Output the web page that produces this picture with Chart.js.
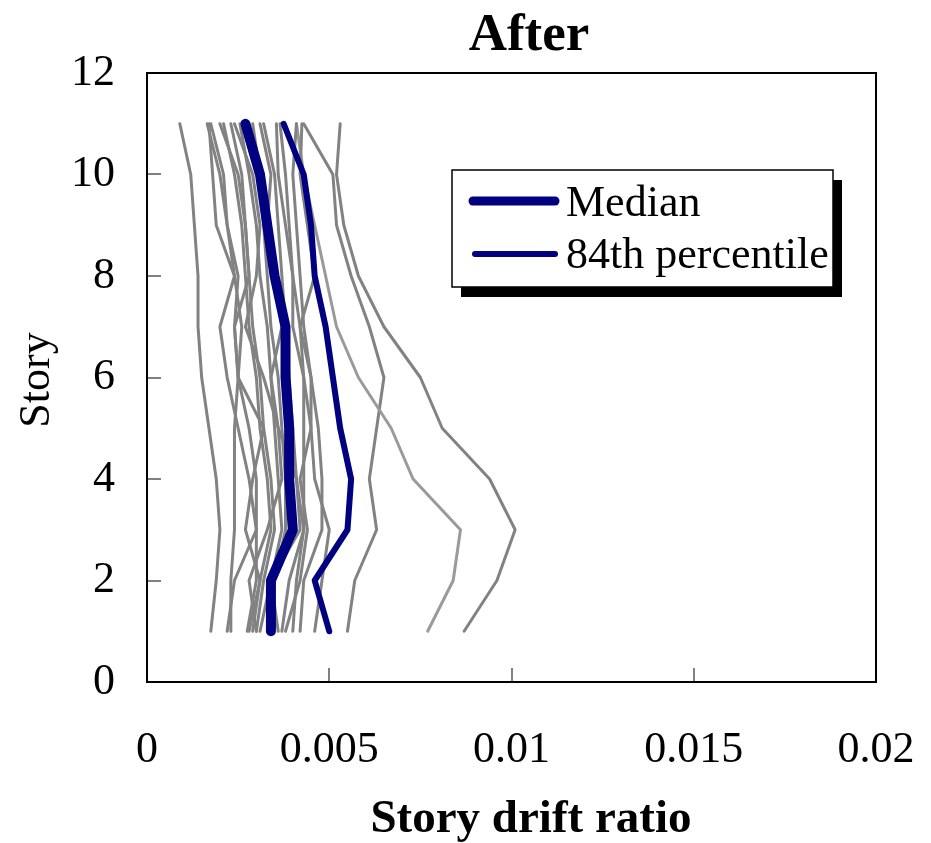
<!DOCTYPE html>
<html>
<head>
<meta charset="utf-8">
<script src="https://cdn.jsdelivr.net/npm/chart.js@4.4.1/dist/chart.umd.min.js"></script>
<style>
  html, body { margin: 0; padding: 0; background: #fff; }
  #wrap { width: 931px; height: 843px; }
</style>
</head>
<body>
<div id="wrap"><canvas id="drift" width="931" height="843"></canvas></div>
<script>
// stories 1..11, drift ratio per story for each ground motion record
const stories = [1, 2, 3, 4, 5, 6, 7, 8, 9, 10, 11];
const xTicks = [0, 0.005, 0.01, 0.015, 0.02];
const yTicks = [0, 2, 4, 6, 8, 10, 12];

const median = [0.0034, 0.0034, 0.0040, 0.0039, 0.0039, 0.0038, 0.0038, 0.0035, 0.0033, 0.0031, 0.0027];
const pct84  = [0.0050, 0.0046, 0.0055, 0.0056, 0.0053, 0.0051, 0.0049, 0.0046, 0.0045, 0.0043, 0.00375];

const eq01 = [0.00175, 0.0019, 0.0020, 0.0019, 0.0017, 0.0015, 0.0014, 0.0014, 0.0013, 0.0012, 0.0009];
const eq02 = [0.0022, 0.0024, 0.0030, 0.0028, 0.0025, 0.0022, 0.0020, 0.0024, 0.0022, 0.0020, 0.00165];
const eq03 = [0.0023, 0.0023, 0.0024, 0.0024, 0.0024, 0.0025, 0.0026, 0.0024, 0.0019, 0.0018, 0.0017];
const eq04 = [0.00275, 0.0030, 0.0030, 0.0030, 0.0028, 0.0025, 0.0024, 0.0025, 0.0022, 0.0021, 0.00175];
const eq05 = [0.0028, 0.0031, 0.0027, 0.0029, 0.0032, 0.0025, 0.0024, 0.0028, 0.0027, 0.0025, 0.0020];
const eq06 = [0.0029, 0.0031, 0.0034, 0.0033, 0.0031, 0.0030, 0.0028, 0.0027, 0.0026, 0.0024, 0.0021];
const eq07 = [0.0030, 0.0032, 0.0035, 0.0034, 0.0032, 0.0031, 0.0029, 0.0028, 0.0027, 0.0026, 0.0023];
const eq08 = [0.0030, 0.0028, 0.0033, 0.0037, 0.0036, 0.0032, 0.0027, 0.0030, 0.0031, 0.0029, 0.0024];
const eq09 = [0.0031, 0.0034, 0.0037, 0.0036, 0.0035, 0.0034, 0.0033, 0.0031, 0.0030, 0.0028, 0.00255];
const eq10 = [0.0033, 0.0035, 0.0038, 0.0038, 0.0037, 0.0036, 0.0034, 0.0033, 0.0032, 0.0031, 0.0029];
const eq11 = [0.0036, 0.0034, 0.0042, 0.0041, 0.0036, 0.0034, 0.0037, 0.0035, 0.0033, 0.0034, 0.0031];
const eq12 = [0.0037, 0.0039, 0.0043, 0.0041, 0.0040, 0.0039, 0.0038, 0.0037, 0.0036, 0.0035, 0.0032];
const eq13 = [0.0038, 0.0042, 0.0044, 0.0042, 0.0045, 0.0043, 0.0040, 0.0040, 0.0038, 0.0036, 0.00355];
const eq14 = [0.0040, 0.0041, 0.0043, 0.0043, 0.0043, 0.0043, 0.0042, 0.0040, 0.0039, 0.0038, 0.00365];
const eq15 = [0.0042, 0.0043, 0.0048, 0.0048, 0.0047, 0.0045, 0.0043, 0.0042, 0.0041, 0.0040, 0.0041];
const eq16 = [0.0046, 0.0048, 0.0050, 0.0046, 0.0045, 0.0045, 0.0042, 0.0046, 0.0044, 0.0042, 0.00425];
const eq17 = [0.0087, 0.0096, 0.0101, 0.0094, 0.0081, 0.0075, 0.0065, 0.0058, 0.0054, 0.0052, 0.0053];
const eq18 = [0.0077, 0.0084, 0.0086, 0.0073, 0.0067, 0.0058, 0.0052, 0.0049, 0.0046, 0.0043, 0.0041];
const eq19 = [0.0055, 0.0057, 0.0063, 0.0061, 0.0063, 0.0065, 0.0061, 0.0056, 0.0052, 0.0051, 0.0043];

const records = [eq01, eq02, eq03, eq04, eq05, eq06, eq07, eq08, eq09, eq10,
                 eq11, eq12, eq13, eq14, eq15, eq16, eq17, eq18, eq19];

const NAVY = '#000080';
const SERIF = '"Liberation Serif", "Times New Roman", serif';

function toPoints(arr) {
  return arr.map((v, i) => ({ x: v, y: stories[i] }));
}

const datasets = [
  { label: 'Median', data: toPoints(median), borderColor: NAVY, borderWidth: 10, order: 0 },
  { label: '84th percentile', data: toPoints(pct84), borderColor: NAVY, borderWidth: 6, order: 0 }
];
records.forEach((rec, i) => {
  datasets.push({
    label: 'rec' + (i + 1),
    data: toPoints(rec),
    borderColor: rec === eq18 ? '#9a9a9a' : '#828282',
    borderWidth: 3,
    order: 1
  });
});

// frame, inward tick marks, titles and the boxed legend
const decor = {
  id: 'decor',
  afterDatasetsDraw(chart) {
    const ctx = chart.ctx;
    const a = chart.chartArea;
    const xs = chart.scales.x, ys = chart.scales.y;
    ctx.save();

    ctx.strokeStyle = '#808080';
    ctx.lineWidth = 2;
    xTicks.forEach(v => {
      const px = Math.round(xs.getPixelForValue(v));
      ctx.beginPath(); ctx.moveTo(px, a.bottom); ctx.lineTo(px, a.bottom - 14); ctx.stroke();
    });
    yTicks.forEach(v => {
      const py = Math.round(ys.getPixelForValue(v));
      ctx.beginPath(); ctx.moveTo(a.left, py); ctx.lineTo(a.left + 14, py); ctx.stroke();
    });

    ctx.strokeStyle = '#000';
    ctx.lineWidth = 2;
    ctx.strokeRect(a.left, a.top, a.right - a.left, a.bottom - a.top);

    // legend
    const lx = 452, ly = 170, lw = 381, lh = 117;
    ctx.fillStyle = '#000';
    ctx.fillRect(lx + 9, ly + 10, lw, lh);
    ctx.fillStyle = '#fff';
    ctx.fillRect(lx, ly, lw, lh);
    ctx.lineWidth = 1.5;
    ctx.strokeRect(lx, ly, lw, lh);

    ctx.lineCap = 'round';
    ctx.strokeStyle = NAVY;
    ctx.lineWidth = 9;
    ctx.beginPath(); ctx.moveTo(473, 201); ctx.lineTo(555, 201); ctx.stroke();
    ctx.lineWidth = 6;
    ctx.beginPath(); ctx.moveTo(475, 254); ctx.lineTo(555, 254); ctx.stroke();

    ctx.fillStyle = '#000';
    ctx.font = '44px ' + SERIF;
    ctx.textAlign = 'left';
    ctx.textBaseline = 'alphabetic';
    ctx.fillText(datasets[0].label, 566, 216);
    ctx.fillText(datasets[1].label, 566, 268);

    // chart and axis titles
    ctx.textAlign = 'center';
    ctx.font = 'bold 53px ' + SERIF;
    ctx.fillText('After', 529, 50);
    ctx.font = 'bold 47px ' + SERIF;
    ctx.fillText('Story drift ratio', 531, 832);

    ctx.translate(49, 380);
    ctx.rotate(-Math.PI / 2);
    ctx.font = '44px ' + SERIF;
    ctx.fillText('Story', 0, 0);

    ctx.restore();
  }
};

new Chart(document.getElementById('drift').getContext('2d'), {
  type: 'scatter',
  data: { datasets: datasets },
  options: {
    responsive: false,
    animation: false,
    showLine: true,
    layout: { padding: { top: 73, right: 55, left: 0, bottom: 0 } },
    elements: {
      point: { radius: 0, hoverRadius: 0 },
      line: { tension: 0, borderCapStyle: 'round', borderJoinStyle: 'round', fill: false }
    },
    scales: {
      x: {
        type: 'linear',
        min: 0,
        max: 0.02,
        afterFit: s => { s.height = 161; s.paddingLeft = 0; s.paddingRight = 0; },
        afterBuildTicks: s => { s.ticks = xTicks.map(v => ({ value: v })); },
        grid: { display: false },
        border: { display: false },
        ticks: {
          autoSkip: false,
          maxRotation: 0,
          padding: 34,
          color: '#000',
          font: { family: SERIF, size: 44 },
          callback: v => String(Number(v.toFixed(3)))
        }
      },
      y: {
        type: 'linear',
        min: 0,
        max: 12,
        afterFit: s => { s.width = 147; s.paddingTop = 0; s.paddingBottom = 0; },
        afterBuildTicks: s => { s.ticks = yTicks.map(v => ({ value: v })); },
        grid: { display: false },
        border: { display: false },
        ticks: {
          autoSkip: false,
          padding: 24,
          color: '#000',
          font: { family: SERIF, size: 44 }
        }
      }
    },
    plugins: {
      legend: { display: false },
      tooltip: { enabled: false }
    }
  },
  plugins: [decor]
});
</script>
</body>
</html>
